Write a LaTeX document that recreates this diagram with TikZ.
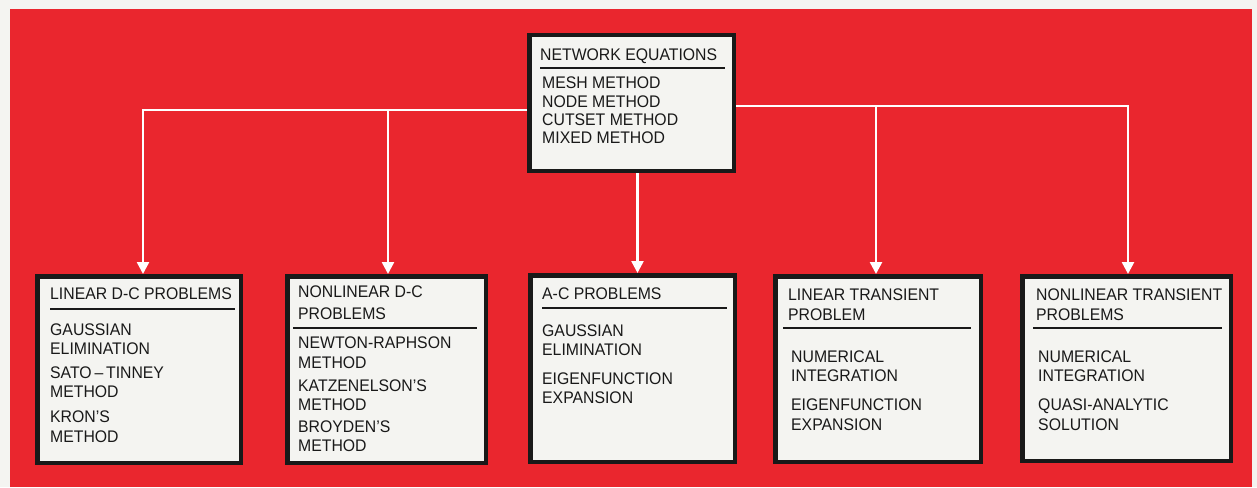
\documentclass[tikz,border=0pt]{standalone}
\usepackage{fontspec}
\setmainfont[FakeStretch=0.94]{Liberation Sans}
\usetikzlibrary{arrows.meta}
\definecolor{bgred}{RGB}{234,38,46}
\definecolor{paper}{RGB}{244,244,241}
\definecolor{ink}{RGB}{25,25,25}
\tikzset{
  box/.style={draw=ink, fill=paper, line width=4.5pt, inner sep=0pt},
  lbl/.style={anchor=base west, inner sep=0pt, text=ink, font=\fontsize{16.8}{19}\selectfont},
  rulel/.style={draw=ink, line width=1.3pt},
  conn/.style={draw=white, line width=2.5pt, -{Triangle[length=12pt,width=12pt]}},
  connl/.style={draw=white, line width=2.5pt}
}
\begin{document}
\begin{tikzpicture}[x=1pt,y=-1pt]
\useasboundingbox (0,0) rectangle (1257,487);
\fill[paper] (0,0) rectangle (1257,487);
\fill[bgred] (10,9) rectangle (1252,487);

% boxes
\node[box, minimum width=204.5pt, minimum height=135.5pt] (top) at (631.5,103) {};
\node[box, minimum width=203.5pt, minimum height=186.5pt] (b1) at (139,369.5) {};
\node[box, minimum width=198.5pt, minimum height=186.5pt] (b2) at (386.5,369.5) {};
\node[box, minimum width=204.5pt, minimum height=186.5pt] (b3) at (632.5,368.5) {};
\node[box, minimum width=205.5pt, minimum height=185.5pt] (b4) at (878,369) {};
\node[box, minimum width=208.5pt, minimum height=184.5pt] (b5) at (1126.5,368.5) {};

% connectors
\coordinate (hl) at (0,110);
\coordinate (hr) at (0,106);
\coordinate (jl) at (388,110);
\coordinate (jr) at (876,106);
\draw[conn] (top.west |- hl) -| ([xshift=4pt]b1.north);
\draw[conn] (jl) -- ([xshift=1.5pt]b2.north);
\draw[conn] ([xshift=5pt]b3.north |- top.south) -- ([xshift=5pt]b3.north);
\draw[conn] (top.east |- hr) -| ([xshift=1.5pt]b5.north);
\draw[conn] (jr) -- ([xshift=-2pt]b4.north);

% top box text
\node[lbl] (t0) at (540,60) {NETWORK EQUATIONS};
\draw[rulel] (540,68) -- (725,68);
\node[lbl] (t1) at (542,88) {MESH METHOD};
\node[lbl] (t2) at (542,107) {NODE METHOD};
\node[lbl] (t3) at (542,125) {CUTSET METHOD};
\node[lbl] (t4) at (542,143) {MIXED METHOD};

% box 1
\node[lbl] (a0) at (50,299) {LINEAR D-C PROBLEMS};
\draw[rulel] (50,309) -- (235,309);
\node[lbl] (a1) at (50,335) {GAUSSIAN};
\node[lbl] (a2) at (50,354) {ELIMINATION};
\node[lbl] (a3) at (50,378) {SATO\,–\,TINNEY};
\node[lbl] (a4) at (50,397) {METHOD};
\node[lbl] (a5) at (50,422) {KRON'S};
\node[lbl] (a6) at (50,442) {METHOD};

% box 2
\node[lbl] (c0) at (298,297) {NONLINEAR D-C};
\node[lbl] (c1) at (298,319) {PROBLEMS};
\draw[rulel] (293,328) -- (477,328);
\node[lbl] (c2) at (298,348) {NEWTON-RAPHSON};
\node[lbl] (c3) at (298,368) {METHOD};
\node[lbl] (c4) at (298,391) {KATZENELSON'S};
\node[lbl] (c5) at (298,410) {METHOD};
\node[lbl] (c6) at (298,432) {BROYDEN'S};
\node[lbl] (c7) at (298,451) {METHOD};

% box 3
\node[lbl] (d0) at (542,299) {A-C PROBLEMS};
\draw[rulel] (542,308) -- (727,308);
\node[lbl] (d1) at (542,336) {GAUSSIAN};
\node[lbl] (d2) at (542,355) {ELIMINATION};
\node[lbl] (d3) at (542,384) {EIGENFUNCTION};
\node[lbl] (d4) at (542,403) {EXPANSION};

% box 4
\node[lbl] (e0) at (788,300) {LINEAR TRANSIENT};
\node[lbl] (e1) at (788,320) {PROBLEM};
\draw[rulel] (783,328) -- (971,328);
\node[lbl] (e2) at (791,362) {NUMERICAL};
\node[lbl] (e3) at (791,381) {INTEGRATION};
\node[lbl] (e4) at (791,410) {EIGENFUNCTION};
\node[lbl] (e5) at (791,430) {EXPANSION};

% box 5
\node[lbl] (f0) at (1036,300) {NONLINEAR TRANSIENT};
\node[lbl] (f1) at (1036,320) {PROBLEMS};
\draw[rulel] (1033,328) -- (1222,328);
\node[lbl] (f2) at (1038,362) {NUMERICAL};
\node[lbl] (f3) at (1038,381) {INTEGRATION};
\node[lbl] (f4) at (1038,410) {QUASI-ANALYTIC};
\node[lbl] (f5) at (1038,430) {SOLUTION};
\end{tikzpicture}
\end{document}
